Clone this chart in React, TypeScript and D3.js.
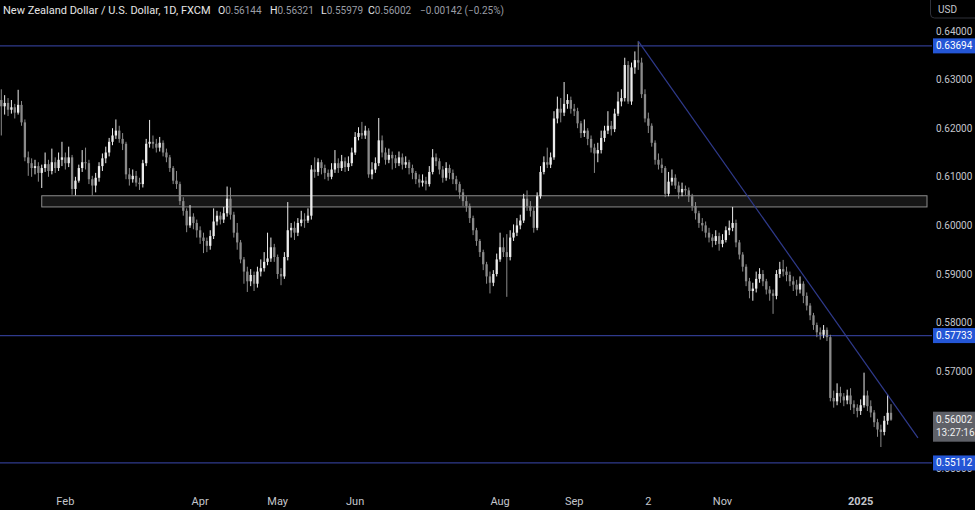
import React from "react";
import * as d3 from "d3";

// ---- Data: NZD/USD daily candles (FXCM) ----
const opens = [.6258,.6245,.6252,.6238,.6243,.6232,.6248,.6212,.6140,.6128,
.6118,.6122,.6108,.6118,.6126,.6112,.6130,.6118,.6135,.6140,
.6128,.6140,.6075,.6092,.6118,.6130,.6128,.6095,.6082,.6098,
.6122,.6138,.6150,.6172,.6185,.6195,.6178,.6168,.6105,.6095,
.6102,.6088,.6085,.6128,.6168,.6172,.6168,.6160,.6170,.6150,
.6140,.6118,.6092,.6085,.6050,.6030,.6000,.6018,.6005,.5990,
.5975,.5968,.5958,.5978,.6008,.6020,.6012,.6025,.6055,.6022,
.5985,.5965,.5930,.5905,.5885,.5898,.5880,.5905,.5912,.5925,
.5932,.5955,.5935,.5900,.5895,.5935,.5990,.5995,.5985,.6005,
.6012,.6010,.6020,.6115,.6110,.6130,.6118,.6108,.6100,.6115,
.6128,.6118,.6132,.6120,.6128,.6150,.6182,.6190,.6185,.6195,
.6105,.6115,.6128,.6175,.6150,.6135,.6145,.6138,.6128,.6140,
.6125,.6130,.6118,.6108,.6095,.6088,.6092,.6085,.6110,.6140,
.6132,.6115,.6098,.6118,.6108,.6095,.6085,.6068,.6050,.6040,
.6015,.5990,.5968,.5945,.5920,.5895,.5882,.5900,.5930,.5955,
.5945,.5935,.5975,.5985,.6000,.6010,.6055,.6040,.6030,.5995,
.6060,.6110,.6130,.6125,.6140,.6220,.6240,.6232,.6250,.6258,
.6240,.6235,.6210,.6190,.6195,.6178,.6160,.6148,.6155,.6180,
.6195,.6205,.6198,.6230,.6255,.6262,.6330,.6255,.6325,.6340,
.6335,.6270,.6220,.6205,.6170,.6135,.6125,.6118,.6065,.6090,
.6098,.6082,.6068,.6075,.6072,.6060,.6040,.6025,.6005,.6000,
.5985,.5975,.5968,.5978,.5962,.5970,.5990,.5995,.6005,.5965,
.5940,.5915,.5885,.5865,.5870,.5890,.5900,.5885,.5868,.5860,
.5855,.5900,.5910,.5905,.5898,.5885,.5878,.5868,.5880,.5855,
.5835,.5815,.5795,.5780,.5775,.5785,.5770,.5645,.5638,.5655,
.5648,.5640,.5650,.5632,.5625,.5618,.5630,.5650,.5628,.5615,
.5595,.5580,.5575,.5598,.56144];

const highs = [.6280,.6268,.6262,.6258,.6250,.6279,.6256,.6218,.6152,.6138,
.6135,.6130,.6125,.6150,.6135,.6158,.6140,.6150,.6172,.6150,
.6162,.6145,.6100,.6125,.6155,.6160,.6135,.6102,.6108,.6130,
.6148,.6162,.6180,.6200,.6218,.6205,.6190,.6172,.6118,.6115,
.6112,.6098,.6135,.6178,.6217,.6185,.6178,.6182,.6175,.6158,
.6145,.6122,.6112,.6090,.6058,.6035,.6042,.6025,.6012,.5998,
.5985,.5975,.5990,.6035,.6030,.6028,.6038,.6080,.6078,.6028,
.6005,.5970,.5935,.5915,.5910,.5905,.5915,.5930,.5945,.5985,
.5975,.5962,.5940,.5912,.5945,.6048,.6005,.6008,.6015,.6030,
.6025,.6035,.6124,.6140,.6138,.6135,.6125,.6115,.6128,.6155,
.6138,.6145,.6140,.6142,.6160,.6192,.6202,.6213,.6205,.6200,
.6130,.6140,.6221,.6185,.6160,.6158,.6152,.6145,.6152,.6148,
.6142,.6135,.6125,.6112,.6105,.6105,.6100,.6122,.6157,.6148,
.6138,.6122,.6130,.6125,.6115,.6102,.6090,.6075,.6060,.6045,
.6020,.5995,.5972,.5950,.5925,.5905,.5908,.5942,.5985,.5975,
.5982,.5990,.6002,.6015,.6022,.6065,.6072,.6050,.6038,.6068,
.6122,.6142,.6160,.6150,.6235,.6265,.6262,.6295,.6270,.6265,
.6250,.6242,.6215,.6218,.6200,.6185,.6168,.6170,.6195,.6205,
.6235,.6215,.6240,.6275,.6280,.6345,.6338,.6335,.6358,.6379,
.6345,.6280,.6232,.6210,.6175,.6148,.6138,.6122,.6110,.6115,
.6105,.6090,.6088,.6082,.6078,.6065,.6048,.6030,.6015,.6008,
.5995,.5982,.5990,.5985,.5982,.5998,.6010,.6038,.6012,.5970,
.5945,.5920,.5892,.5882,.5905,.5912,.5908,.5890,.5875,.5868,
.5908,.5925,.5929,.5915,.5905,.5895,.5888,.5895,.5885,.5862,
.5840,.5820,.5800,.5790,.5795,.5790,.5775,.5660,.5675,.5668,
.5655,.5662,.5665,.5640,.5632,.5642,.5697,.5660,.5640,.5620,
.5602,.5590,.5608,.5652,.56321];

const lows = [.6185,.6228,.6225,.6230,.6220,.6228,.6205,.6132,.6102,.6100,
.6105,.6090,.6077,.6110,.6100,.6105,.6108,.6112,.6122,.6115,
.6120,.6063,.6062,.6088,.6110,.6115,.6085,.6062,.6068,.6090,
.6112,.6128,.6142,.6165,.6178,.6170,.6155,.6095,.6082,.6088,
.6080,.6073,.6078,.6122,.6160,.6158,.6150,.6152,.6142,.6130,
.6110,.6085,.6075,.6042,.6020,.5986,.5995,.5992,.5975,.5962,
.5943,.5945,.5950,.5972,.6000,.6002,.6005,.6018,.6012,.5975,
.5950,.5922,.5880,.5863,.5875,.5865,.5872,.5895,.5905,.5918,
.5925,.5925,.5890,.5877,.5890,.5928,.5975,.5970,.5978,.5998,
.5995,.6005,.6012,.6098,.6102,.6105,.6095,.6092,.6095,.6108,
.6108,.6112,.6110,.6112,.6122,.6145,.6175,.6178,.6178,.6098,
.6095,.6108,.6122,.6140,.6125,.6128,.6115,.6118,.6122,.6115,
.6118,.6105,.6095,.6085,.6078,.6080,.6072,.6080,.6105,.6122,
.6105,.6088,.6092,.6095,.6085,.6072,.6055,.6040,.6028,.6005,
.5980,.5958,.5935,.5908,.5880,.5860,.5875,.5895,.5925,.5935,
.5853,.5928,.5968,.5978,.5992,.6005,.6030,.6018,.5985,.5990,
.6055,.6105,.6118,.6118,.6135,.6210,.6212,.6225,.6240,.6230,
.6225,.6200,.6180,.6182,.6165,.6150,.6108,.6130,.6148,.6172,
.6188,.6185,.6192,.6225,.6245,.6255,.6250,.6248,.6312,.6320,
.6262,.6212,.6190,.6162,.6125,.6115,.6108,.6058,.6060,.6082,
.6075,.6055,.6060,.6062,.6048,.6030,.6012,.5995,.5988,.5975,
.5965,.5955,.5960,.5948,.5955,.5965,.5980,.5988,.5955,.5930,
.5905,.5875,.5850,.5845,.5862,.5882,.5875,.5858,.5845,.5818,
.5848,.5892,.5895,.5885,.5875,.5865,.5855,.5860,.5840,.5825,
.5805,.5785,.5770,.5765,.5768,.5762,.5638,.5625,.5630,.5635,
.5628,.5632,.5620,.5612,.5605,.5610,.5625,.5618,.5605,.5585,
.5565,.5544,.5568,.5590,.55979];

const closes = [.6245,.6252,.6238,.6243,.6232,.6248,.6212,.6140,.6128,.6118,
.6122,.6108,.6118,.6126,.6112,.6130,.6118,.6135,.6140,.6128,
.6140,.6075,.6092,.6118,.6130,.6128,.6095,.6082,.6098,.6122,
.6138,.6150,.6172,.6185,.6195,.6178,.6168,.6105,.6095,.6102,
.6088,.6085,.6128,.6168,.6172,.6168,.6160,.6170,.6150,.6140,
.6118,.6092,.6085,.6050,.6030,.6000,.6018,.6005,.5990,.5975,
.5968,.5958,.5978,.6008,.6020,.6012,.6025,.6055,.6022,.5985,
.5965,.5930,.5905,.5885,.5898,.5880,.5905,.5912,.5925,.5932,
.5955,.5935,.5900,.5895,.5935,.5990,.5995,.5985,.6005,.6012,
.6010,.6020,.6115,.6110,.6130,.6118,.6108,.6100,.6115,.6128,
.6118,.6132,.6120,.6128,.6150,.6182,.6190,.6185,.6195,.6105,
.6115,.6128,.6175,.6150,.6135,.6145,.6138,.6128,.6140,.6125,
.6130,.6118,.6108,.6095,.6088,.6092,.6085,.6110,.6140,.6132,
.6115,.6098,.6118,.6108,.6095,.6085,.6068,.6050,.6040,.6015,
.5990,.5968,.5945,.5920,.5895,.5882,.5900,.5930,.5955,.5945,
.5935,.5975,.5985,.6000,.6010,.6055,.6040,.6030,.5995,.6060,
.6110,.6130,.6125,.6140,.6220,.6240,.6232,.6250,.6258,.6240,
.6235,.6210,.6190,.6195,.6178,.6160,.6148,.6155,.6180,.6195,
.6205,.6198,.6230,.6255,.6262,.6330,.6255,.6325,.6340,.6335,
.6270,.6220,.6205,.6170,.6135,.6125,.6118,.6065,.6090,.6098,
.6082,.6068,.6075,.6072,.6060,.6040,.6025,.6005,.6000,.5985,
.5975,.5968,.5978,.5962,.5970,.5990,.5995,.6005,.5965,.5940,
.5915,.5885,.5865,.5870,.5890,.5900,.5885,.5868,.5860,.5855,
.5900,.5910,.5905,.5898,.5885,.5878,.5868,.5880,.5855,.5835,
.5815,.5795,.5780,.5775,.5785,.5770,.5645,.5638,.5655,.5648,
.5640,.5650,.5632,.5625,.5618,.5630,.5650,.5628,.5615,.5595,
.5580,.5575,.5598,.56144,.56002];

// x-axis tick labels and the candle index they sit on
const monthLabels = ["Feb", "Apr", "May", "Jun", "Aug", "Sep", "2", "Nov", "2025"];
const monthIndex = [19, 59, 82, 105, 148, 170, 192, 214, 255];

// price axis ticks
const priceTicks = [0.64, 0.63, 0.62, 0.61, 0.60, 0.59, 0.58, 0.57, 0.56, 0.55];

// horizontal levels (blue lines with labels)
const levels = [0.63694, 0.57733, 0.55112];

// support / resistance zone
const zoneTop = 0.6061;
const zoneBottom = 0.6038;
const zoneStartIndex = 12;

// downtrend line anchors [index, price]
const trendIdx = [189, 272];
const trendPrice = [0.6379, 0.5563];

// header values
const ohlcLabels = ["O", "H", "L", "C"];
const ohlcValues = ["0.56144", "0.56321", "0.55979", "0.56002"];
const changeText = "\u22120.00142 (\u22120.25%)";
const lastPrice = 0.56002;
const countdown = "13:27:16";

const W = 975;
const H = 510;
const PLOT_RIGHT = 932;
const FONT = "Roboto, 'Liberation Sans', Arial, sans-serif";

export default function App() {
  const n = closes.length;
  const x = d3.scaleLinear().domain([0, n - 1]).range([1.3, 891]);
  const y = d3.scaleLinear().domain([0.55, 0.64]).range([468.4, 31]);
  const fmt = d3.format(".5f");
  const bodyW = 2.3;

  const upColor = "#ececec";
  const downColor = "#8a8a8a";
  const lineBlue = "#2f3a8c";
  const labelBlue = "#2456d6";
  const axisText = "#c4c6cc";
  const axisFs = 10;

  const trend = d3.line<number>()
    .x((d, i) => x(trendIdx[i]))
    .y((d) => y(d));

  const headerX = [218, 270, 321, 368];

  return (
    <svg width={W} height={H} style={{ position: "absolute", left: 0, top: 0, background: "#000" }}
      fontFamily={FONT}>
      <rect x={0} y={0} width={W} height={H} fill="#000" />

      {/* zone */}
      <rect x={x(zoneStartIndex)} y={y(zoneTop)} width={PLOT_RIGHT - 5 - x(zoneStartIndex)}
        height={y(zoneBottom) - y(zoneTop)} fill="#161616" stroke="#8c8c8c" strokeWidth={1} />

      {/* levels */}
      {levels.map((lv, k) => (
        <line key={"lv" + k} x1={0} x2={PLOT_RIGHT} y1={y(lv)} y2={y(lv)} stroke={lineBlue} strokeWidth={1.2} />
      ))}

      {/* candles */}
      {closes.map((c, i) => {
        const o = opens[i];
        const up = c >= o;
        const col = up ? upColor : downColor;
        const cx = x(i);
        const top = y(Math.max(o, c));
        const bot = y(Math.min(o, c));
        return (
          <g key={i}>
            <line x1={cx} x2={cx} y1={y(highs[i])} y2={y(lows[i])} stroke={col} strokeWidth={1} />
            <rect x={cx - bodyW / 2} y={top} width={bodyW} height={Math.max(1, bot - top)} fill={col} />
          </g>
        );
      })}

      {/* trendline */}
      <path d={trend(trendPrice) || ""} fill="none" stroke={lineBlue} strokeWidth={1.2} />

      {/* price axis ticks (0.55 sits partly hidden under its level label, as in the source) */}
      {priceTicks.map((p) => (
        <text key={"pt" + p} x={936} y={y(p)} dy="0.35em" fontSize={axisFs} fill={axisText}>{fmt(p)}</text>
      ))}

      {/* level labels */}
      {levels.map((lv, k) => (
        <g key={"ll" + k}>
          <rect x={933} y={y(lv) - 7.5} width={42} height={15} fill={labelBlue} />
          <text x={936} y={y(lv)} dy="0.35em" fontSize={axisFs} fill="#ffffff">{fmt(lv)}</text>
        </g>
      ))}

      {/* last price label */}
      <rect x={933} y={y(lastPrice) - 8} width={42} height={30} fill="#5f6168" />
      <text x={936} y={y(lastPrice)} dy="0.35em" fontSize={axisFs} fill="#f0f0f0">{fmt(lastPrice)}</text>
      <text x={936} y={y(lastPrice) + 13} dy="0.35em" fontSize={axisFs} fill="#f0f0f0">{countdown}</text>

      {/* currency box */}
      <rect x={930.5} y={-4} width={50} height={22} rx={4} fill="#000" stroke="#2e3039" strokeWidth={1} />
      <text x={938} y={9} dy="0.35em" fontSize={axisFs} fill={axisText}>USD</text>

      {/* time axis */}
      {monthLabels.map((m, k) => (
        <text key={"m" + k} x={x(monthIndex[k])} y={501} dy="0.35em" textAnchor="middle" fontSize={11}
          fill={axisText} fontWeight={m === "2025" ? 700 : 400}>{m}</text>
      ))}

      {/* header */}
      <text x={3} y={10} dy="0.35em" fontSize={11} fill="#e6e6e6">New Zealand Dollar / U.S. Dollar, 1D, FXCM</text>
      {ohlcLabels.map((l, k) => (
        <text key={"h" + k} x={headerX[k]} y={10} dy="0.35em" fontSize={10.5}>
          <tspan fill="#e6e6e6">{l}</tspan>
          <tspan fill="#9a9da5" fontSize={10}>{ohlcValues[k]}</tspan>
        </text>
      ))}
      <text x={420} y={10} dy="0.35em" fontSize={10} fill="#9a9da5">{changeText}</text>
    </svg>
  );
}
